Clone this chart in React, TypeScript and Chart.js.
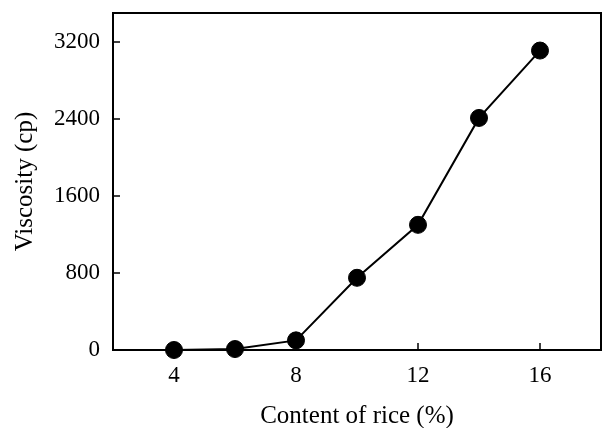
import React, { useEffect, useRef } from "react";
import { Chart, registerables } from "chart.js";

Chart.register(...registerables);

const contentOfRice = [4, 6, 8, 10, 12, 14, 16];
const viscosity = [0, 10, 100, 750, 1300, 2410, 3110];
const xTicks = [4, 8, 12, 16];
const yTicks = [0, 800, 1600, 2400, 3200];
const xTitle = "Content of rice (%)";
const yTitle = "Viscosity (cp)";

const FONT = "'Liberation Serif', 'Times New Roman', serif";

const framePlugin = {
  id: "frame",
  beforeDatasetsDraw(chart: any) {
    const { ctx, chartArea: a, scales } = chart;
    ctx.save();
    ctx.strokeStyle = "#000";
    ctx.lineWidth = 2;
    ctx.strokeRect(a.left, a.top, a.right - a.left, a.bottom - a.top);
    ctx.lineWidth = 1.5;
    ctx.beginPath();
    scales.x.ticks.forEach((t: any) => {
      const px = scales.x.getPixelForValue(t.value);
      ctx.moveTo(px, a.bottom);
      ctx.lineTo(px, a.bottom - 7);
    });
    scales.y.ticks.forEach((t: any) => {
      const py = scales.y.getPixelForValue(t.value);
      ctx.moveTo(a.left, py);
      ctx.lineTo(a.left + 7, py);
    });
    ctx.stroke();
    ctx.restore();
  },
};

export default function App() {
  const ref = useRef<HTMLCanvasElement>(null);
  useEffect(() => {
    if (!ref.current) return;
    const chart = new Chart(ref.current, {
      type: "line",
      data: {
        datasets: [
          {
            data: contentOfRice.map((x, i) => ({ x, y: viscosity[i] })),
            borderColor: "#000",
            backgroundColor: "#000",
            borderWidth: 2,
            pointRadius: 8.5,
            pointBorderWidth: 1,
            pointBackgroundColor: "#000",
            pointBorderColor: "#000",
            tension: 0,
            clip: false as any,
          },
        ],
      },
      options: {
        animation: false,
        responsive: true,
        maintainAspectRatio: false,
        layout: { autoPadding: false, padding: { top: 13, right: 2, left: 0, bottom: 0 } },
        plugins: { legend: { display: false }, tooltip: { enabled: false } },
        scales: {
          x: {
            type: "linear",
            min: 2,
            max: 18,
            afterBuildTicks: (s: any) => {
              s.ticks = xTicks.map((v) => ({ value: v }));
            },
            afterFit: (s: any) => {
              s.height = 78;
              s.paddingLeft = 0;
              s.paddingRight = 0;
              s.paddingTop = 0;
              s.paddingBottom = 0;
            },
            grid: { display: false, drawTicks: false },
            border: { display: false },
            ticks: {
              color: "#000",
              padding: 12,
              font: { family: FONT, size: 23 },
              callback: (v: any) => String(v),
            },
            title: {
              display: true,
              text: xTitle,
              color: "#000",
              font: { family: FONT, size: 25, lineHeight: 1 },
              padding: { top: 0, bottom: -1 },
            },
          },
          y: {
            type: "linear",
            min: 0,
            max: 3500,
            afterBuildTicks: (s: any) => {
              s.ticks = yTicks.map((v) => ({ value: v }));
            },
            afterFit: (s: any) => {
              s.width = 113;
              s.paddingLeft = 0;
              s.paddingRight = 0;
              s.paddingTop = 0;
              s.paddingBottom = 0;
            },
            grid: { display: false, drawTicks: false },
            border: { display: false },
            ticks: {
              color: "#000",
              padding: 13,
              font: { family: FONT, size: 23 },
              callback: (v: any) => String(v),
            },
            title: {
              display: true,
              text: yTitle,
              color: "#000",
              font: { family: FONT, size: 25, lineHeight: 1 },
              padding: { top: 13, bottom: 0 },
            },
          },
        },
      },
      plugins: [framePlugin],
    });
    return () => chart.destroy();
  }, []);
  return (
    <div style={{ position: "fixed", left: 0, top: 0, width: 603, height: 428, background: "#fff" }}>
      <canvas ref={ref} />
    </div>
  );
}
